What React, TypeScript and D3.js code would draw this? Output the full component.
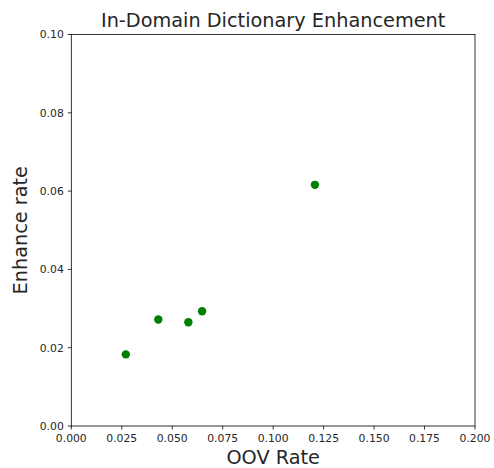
import React from "react";
import * as d3 from "d3";

const oovRate = [0.027, 0.0431, 0.058, 0.0648, 0.1207];
const enhanceRate = [0.0183, 0.0272, 0.0265, 0.0293, 0.0616];
const xTicks = [0, 0.025, 0.05, 0.075, 0.1, 0.125, 0.15, 0.175, 0.2];
const yTicks = [0, 0.02, 0.04, 0.06, 0.08, 0.1];

const W = 494, H = 468;
const L = 71.3, R = 475, T = 34.5, B = 426;

export default function App() {
  const x = d3.scaleLinear().domain([0, 0.2]).range([L, R]);
  const y = d3.scaleLinear().domain([0, 0.1]).range([B, T]);
  const font = "DejaVu Sans, sans-serif";
  return (
    <svg width={W} height={H} style={{ position: "fixed", left: 0, top: 0 }} fontFamily={font}>
      <rect width={W} height={H} fill="#fff" />
      {oovRate.map((v, i) => (
        <circle key={i} cx={x(v)} cy={y(enhanceRate[i])} r={4.2} fill="#008000" />
      ))}
      <rect x={L} y={T} width={R - L} height={B - T} fill="none" stroke="#000" strokeWidth={0.8} />
      {xTicks.map((t) => (
        <g key={"x" + t}>
          <line x1={x(t)} x2={x(t)} y1={B} y2={B + 3.5} stroke="#000" strokeWidth={0.8} />
          <text x={x(t)} y={B + 15.5} fontSize={10.8} textAnchor="middle" fill="#262626">{d3.format(".3f")(t)}</text>
        </g>
      ))}
      {yTicks.map((t) => (
        <g key={"y" + t}>
          <line x1={L - 3.5} x2={L} y1={y(t)} y2={y(t)} stroke="#000" strokeWidth={0.8} />
          <text x={L - 7.5} y={y(t) + 3.9} fontSize={10.8} textAnchor="end" fill="#262626">{d3.format(".2f")(t)}</text>
        </g>
      ))}
      <text x={(L + R) / 2} y={26.5} fontSize={19.3} textAnchor="middle" fill="#262626">In-Domain Dictionary Enhancement</text>
      <text x={(L + R) / 2} y={463.5} fontSize={19.3} textAnchor="middle" fill="#262626">OOV Rate</text>
      <text transform={`translate(26.5,${(T + B) / 2}) rotate(-90)`} fontSize={19.3} textAnchor="middle" fill="#262626">Enhance rate</text>
    </svg>
  );
}
